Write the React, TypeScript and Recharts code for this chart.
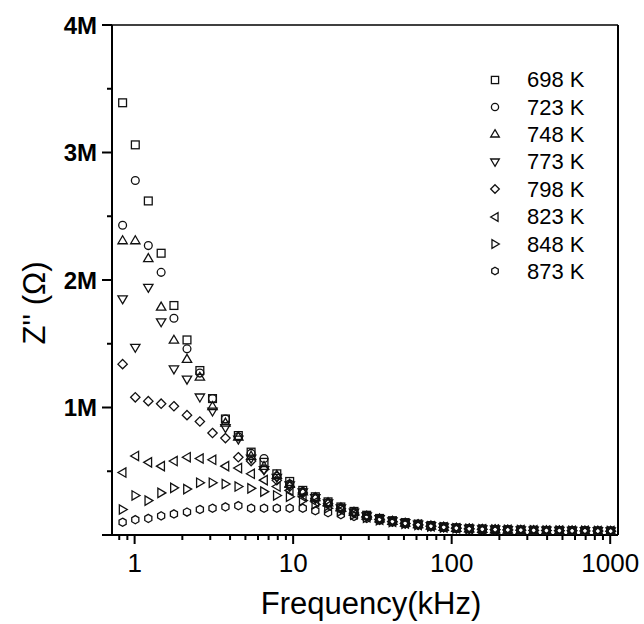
import { ScatterChart, Scatter, XAxis, YAxis, Legend, ReferenceLine } from 'recharts'

// frequency points (kHz)
const FREQ = [
  0.84, 1.01, 1.22, 1.47, 1.77, 2.14, 2.58, 3.1, 3.74, 4.51, 5.43, 6.55, 7.89, 9.51,
  11.5, 13.8, 16.6, 20, 24.2, 29.1, 35.1, 42.3, 50.9, 61.4, 74, 89.1, 107, 129, 156,
  188, 226, 273, 329, 396, 478, 575, 693, 836, 1007,
]

// Z'' in MΩ for each temperature
const Z_698 = [
  3.39, 3.06, 2.62, 2.21, 1.8, 1.53, 1.29, 1.07, 0.91, 0.78, 0.65, 0.57, 0.48, 0.42,
  0.35, 0.3, 0.26, 0.22, 0.185, 0.155, 0.13, 0.112, 0.097, 0.085, 0.074, 0.064, 0.056,
  0.05, 0.046, 0.043, 0.04, 0.038, 0.036, 0.035, 0.034, 0.033, 0.032, 0.031, 0.03,
]
const Z_723 = [
  2.43, 2.78, 2.27, 2.06, 1.7, 1.46, 1.27, 1.07, 0.91, 0.77, 0.64, 0.6, 0.46, 0.4,
  0.34, 0.295, 0.255, 0.215, 0.18, 0.15, 0.128, 0.11, 0.095, 0.083, 0.072, 0.063, 0.055,
  0.05, 0.046, 0.043, 0.04, 0.038, 0.036, 0.035, 0.034, 0.033, 0.032, 0.031, 0.03,
]
const Z_748 = [
  2.31, 2.31, 2.17, 1.79, 1.53, 1.38, 1.24, 1.01, 0.88, 0.77, 0.62, 0.54, 0.47, 0.4,
  0.34, 0.295, 0.255, 0.215, 0.18, 0.15, 0.128, 0.11, 0.095, 0.083, 0.072, 0.063, 0.055,
  0.05, 0.046, 0.043, 0.04, 0.038, 0.036, 0.035, 0.034, 0.033, 0.032, 0.031, 0.03,
]
const Z_773 = [
  1.85, 1.47, 1.94, 1.67, 1.3, 1.22, 1.08, 0.97, 0.84, 0.75, 0.6, 0.51, 0.45, 0.39,
  0.335, 0.29, 0.25, 0.21, 0.178, 0.148, 0.126, 0.108, 0.094, 0.082, 0.071, 0.062, 0.055,
  0.05, 0.046, 0.043, 0.04, 0.038, 0.036, 0.035, 0.034, 0.033, 0.032, 0.031, 0.03,
]
const Z_798 = [
  1.34, 1.08, 1.05, 1.03, 1.01, 0.94, 0.89, 0.8, 0.76, 0.61, 0.58, 0.515, 0.43, 0.38,
  0.33, 0.285, 0.245, 0.205, 0.172, 0.145, 0.124, 0.106, 0.092, 0.081, 0.07, 0.061, 0.054,
  0.049, 0.045, 0.042, 0.04, 0.038, 0.036, 0.035, 0.034, 0.033, 0.032, 0.031, 0.03,
]
const Z_823 = [
  0.49, 0.62, 0.57, 0.54, 0.58, 0.61, 0.6, 0.59, 0.54, 0.525, 0.48, 0.43, 0.38, 0.35,
  0.3, 0.26, 0.23, 0.195, 0.165, 0.14, 0.12, 0.104, 0.09, 0.079, 0.069, 0.06, 0.053,
  0.048, 0.045, 0.042, 0.04, 0.038, 0.036, 0.035, 0.034, 0.033, 0.032, 0.031, 0.03,
]
const Z_848 = [
  0.2, 0.31, 0.27, 0.33, 0.37, 0.36, 0.41, 0.41, 0.4, 0.38, 0.366, 0.34, 0.31, 0.3,
  0.27, 0.24, 0.21, 0.185, 0.16, 0.135, 0.117, 0.102, 0.089, 0.078, 0.068, 0.06, 0.053,
  0.048, 0.045, 0.042, 0.04, 0.038, 0.036, 0.035, 0.034, 0.033, 0.032, 0.031, 0.03,
]
const Z_873 = [
  0.1, 0.12, 0.13, 0.15, 0.165, 0.18, 0.2, 0.21, 0.22, 0.23, 0.21, 0.21, 0.21, 0.21,
  0.21, 0.19, 0.175, 0.16, 0.145, 0.13, 0.115, 0.1, 0.088, 0.077, 0.067, 0.059, 0.052,
  0.047, 0.044, 0.041, 0.039, 0.037, 0.035, 0.034, 0.033, 0.032, 0.031, 0.03, 0.03,
]

type Shape = 'square' | 'circle' | 'up' | 'down' | 'diamond' | 'left' | 'right' | 'hex'

const SERIES: { name: string; values: number[]; shape: Shape }[] = [
  { name: '698 K', values: Z_698, shape: 'square' },
  { name: '723 K', values: Z_723, shape: 'circle' },
  { name: '748 K', values: Z_748, shape: 'up' },
  { name: '773 K', values: Z_773, shape: 'down' },
  { name: '798 K', values: Z_798, shape: 'diamond' },
  { name: '823 K', values: Z_823, shape: 'left' },
  { name: '848 K', values: Z_848, shape: 'right' },
  { name: '873 K', values: Z_873, shape: 'hex' },
]

const X_TICKS = [
  0.8, 0.9, 1, 2, 3, 4, 5, 6, 7, 8, 9, 10, 20, 30, 40, 50, 60, 70, 80, 90, 100,
  200, 300, 400, 500, 600, 700, 800, 900, 1000,
]
const X_LABELS = [1, 10, 100, 1000]
const Y_TICKS = [0, 0.5, 1, 1.5, 2, 2.5, 3, 3.5, 4]
const X_DOMAIN = [0.72, 1120]

const INK = '#111'

function Marker({ shape, cx, cy, r }: { shape: Shape; cx: number; cy: number; r: number }) {
  const common = { fill: 'none', stroke: INK, strokeWidth: 1.3 }
  const t = r * 1.2
  switch (shape) {
    case 'square':
      return <rect x={cx - r} y={cy - r} width={2 * r} height={2 * r} {...common} />
    case 'circle':
      return <circle cx={cx} cy={cy} r={r} {...common} />
    case 'up':
      return <path d={`M${cx},${cy - t} L${cx + t},${cy + t * 0.7} L${cx - t},${cy + t * 0.7} Z`} {...common} />
    case 'down':
      return <path d={`M${cx},${cy + t} L${cx + t},${cy - t * 0.7} L${cx - t},${cy - t * 0.7} Z`} {...common} />
    case 'diamond':
      return <path d={`M${cx},${cy - t} L${cx + t},${cy} L${cx},${cy + t} L${cx - t},${cy} Z`} {...common} />
    case 'left':
      return <path d={`M${cx - t},${cy} L${cx + t * 0.7},${cy - t} L${cx + t * 0.7},${cy + t} Z`} {...common} />
    case 'right':
      return <path d={`M${cx + t},${cy} L${cx - t * 0.7},${cy - t} L${cx - t * 0.7},${cy + t} Z`} {...common} />
    default: {
      const pts = [0, 1, 2, 3, 4, 5]
        .map((i) => {
          const a = (Math.PI / 3) * i - Math.PI / 2
          return `${cx + r * 1.05 * Math.cos(a)},${cy + r * 1.05 * Math.sin(a)}`
        })
        .join(' ')
      return <polygon points={pts} {...common} />
    }
  }
}

const XTick = (props: any) => {
  const { x, y, payload } = props
  const major = X_LABELS.includes(payload.value)
  return (
    <g>
      <line x1={x} x2={x} y1={y} y2={y + (major ? 9 : 5)} stroke="#000" strokeWidth={2} />
      {major && (
        <text x={x} y={y + 37} textAnchor="middle" fontSize={26} fill="#000">
          {payload.value}
        </text>
      )}
    </g>
  )
}

const YTick = (props: any) => {
  const { x, y, payload } = props
  const v = payload.value
  const major = Number.isInteger(v)
  return (
    <g>
      <line x1={x} x2={x - (major ? 10 : 5)} y1={y} y2={y} stroke="#000" strokeWidth={2} />
      {major && v > 0 && (
        <text x={x - 15} y={y} dy="0.36em" textAnchor="end" fontSize={24} fontWeight="bold" fill="#000">
          {v}M
        </text>
      )}
    </g>
  )
}

const XTitle = (props: any) => {
  const vb = props.viewBox ?? { x: 112, y: 535, width: 506, height: 85 }
  return (
    <text x={vb.x + vb.width / 2 + 6} y={vb.y + vb.height - 6} textAnchor="middle" fontSize={31} fill="#000">
      Frequency(kHz)
    </text>
  )
}

const YTitle = (props: any) => {
  const vb = props.viewBox ?? { x: 12, y: 25, width: 100, height: 510 }
  const cx = vb.x + 22
  const cy = vb.y + vb.height / 2 + 23
  return (
    <text
      x={cx}
      y={cy}
      transform={`rotate(-90 ${cx} ${cy})`}
      textAnchor="middle"
      dominantBaseline="central"
      fontSize={31}
      fill="#000"
    >
      Z'' (Ω)
    </text>
  )
}

function LegendBox() {
  return (
    <div>
      {SERIES.map((s) => (
        <div key={s.name} style={{ height: 27.4, display: 'flex', alignItems: 'center' }}>
          <svg width={30} height={16}>
            <Marker shape={s.shape} cx={15} cy={8} r={3.6} />
          </svg>
          <span style={{ marginLeft: 17, fontSize: 22, color: '#000', lineHeight: '27px' }}>{s.name}</span>
        </div>
      ))}
    </div>
  )
}

export default function App() {
  return (
    <div
      style={{
        position: 'absolute',
        left: 0,
        top: 0,
        width: 644,
        height: 624,
        background: '#fff',
        fontFamily: '"Liberation Sans", Arial, sans-serif',
      }}
    >
      <ScatterChart width={644} height={624} margin={{ top: 25, right: 26, bottom: 4, left: 12 }}>
        <XAxis
          dataKey="f"
          type="number"
          scale="log"
          domain={X_DOMAIN}
          allowDataOverflow
          ticks={X_TICKS}
          interval={0}
          tick={<XTick />}
          tickLine={false}
          tickSize={0}
          tickMargin={0}
          height={85}
          axisLine={{ stroke: '#000', strokeWidth: 2 }}
          label={<XTitle />}
        />
        <YAxis
          dataKey="z"
          type="number"
          domain={[0, 4]}
          allowDataOverflow
          ticks={Y_TICKS}
          interval={0}
          tick={<YTick />}
          tickLine={false}
          tickSize={0}
          tickMargin={0}
          width={100}
          axisLine={{ stroke: '#000', strokeWidth: 2 }}
          label={<YTitle />}
        />
        <ReferenceLine y={4} stroke="#000" strokeWidth={1.5} ifOverflow="visible" />
        <ReferenceLine x={X_DOMAIN[1]} stroke="#000" strokeWidth={2} ifOverflow="visible" />
        {SERIES.map((s) => (
          <Scatter
            key={s.name}
            name={s.name}
            data={FREQ.map((f, i) => ({ f, z: s.values[i] }))}
            isAnimationActive={false}
            shape={(p: any) => <Marker shape={s.shape} cx={p.cx} cy={p.cy} r={3.9} />}
          />
        ))}
        <Legend
          layout="vertical"
          align="center"
          verticalAlign="middle"
          content={<LegendBox />}
          wrapperStyle={{ left: 480, top: 66, width: 140 }}
        />
      </ScatterChart>
    </div>
  )
}
